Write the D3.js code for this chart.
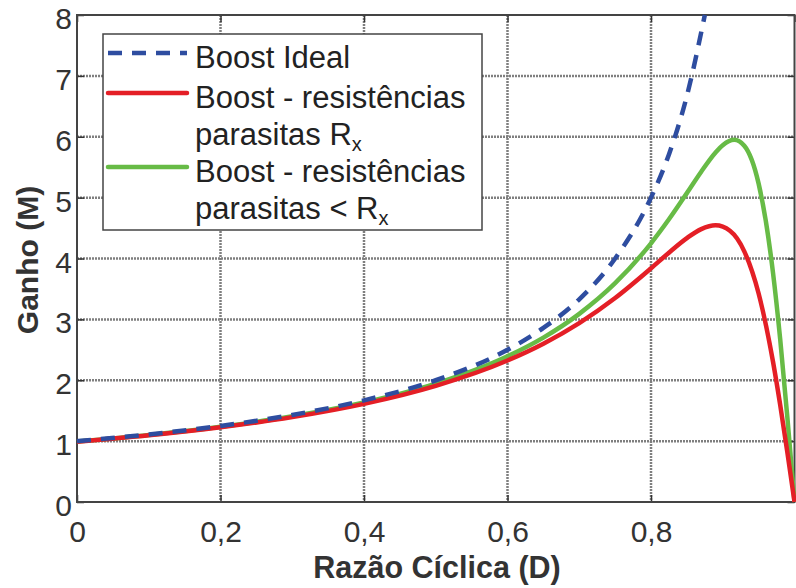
<!DOCTYPE html>
<html>
<head>
<meta charset="utf-8">
<script src="https://cdn.jsdelivr.net/npm/d3@7"></script>
<style>
  body { margin: 0; background: #fff; }
  svg { display: block; font-family: "Liberation Sans", Arial, sans-serif; }
</style>
</head>
<body>
<div id="chart"></div>
<script>
"use strict";

// Data
const dutyIdeal = [0, 0.1, 0.2, 0.3, 0.4, 0.5, 0.6, 0.65, 0.7, 0.75, 0.8, 0.825, 0.85, 0.875];
const gainIdeal = [1, 1.11, 1.25, 1.43, 1.67, 2.0, 2.5, 2.86, 3.33, 4.0, 5.0, 5.71, 6.67, 8.0];

const dutyRx = [0, 0.1, 0.2, 0.3, 0.4, 0.5, 0.6, 0.65, 0.7, 0.75, 0.8, 0.825, 0.85, 0.87, 0.89, 0.91, 0.93, 0.95, 0.97, 0.98, 0.99, 1];
const gainRx = [0.99, 1.095, 1.227, 1.394, 1.612, 1.908, 2.324, 2.6, 2.938, 3.351, 3.839, 4.096, 4.335, 4.483, 4.545, 4.455, 4.118, 3.425, 2.308, 1.6, 0.82, 0];

const dutyLow = [0, 0.1, 0.2, 0.3, 0.4, 0.5, 0.6, 0.65, 0.7, 0.75, 0.8, 0.825, 0.85, 0.87, 0.89, 0.9, 0.916, 0.93, 0.95, 0.96, 0.97, 0.98, 0.99, 1];
const gainLow = [0.993, 1.102, 1.236, 1.408, 1.635, 1.945, 2.394, 2.701, 3.091, 3.594, 4.25, 4.644, 5.074, 5.426, 5.741, 5.862, 5.95, 5.853, 5.23, 4.619, 3.769, 2.681, 1.397, 0];

const xTicks = [0, 0.2, 0.4, 0.6, 0.8, 1];
const yTicks = [0, 1, 2, 3, 4, 5, 6, 7, 8];

const width = 796, height = 588;
const margin = { top: 15, right: 1, bottom: 86, left: 77 };

let svg = d3.select("#chart").append("svg")
    .attr("width", width)
    .attr("height", height);

let xScale = d3.scaleLinear().domain([0, 1]).range([margin.left, width - margin.right - 0.5]);
let yScale = d3.scaleLinear().domain([0, 8]).range([height - margin.bottom, margin.top]);

let x0 = xScale.range()[0], x1 = xScale.range()[1];
let y0 = yScale.range()[0], y1 = yScale.range()[1];

// Grid
let grid = svg.append("g").attr("class", "grid")
    .style("stroke", "#7f7f7f")
    .style("stroke-width", 2.5)
    .style("stroke-dasharray", "2 1");

grid.selectAll("line.v").data(xTicks.slice(1, -1)).enter().append("line")
    .attr("class", "v")
    .attr("x1", d => xScale(d)).attr("x2", d => xScale(d))
    .attr("y1", y1).attr("y2", y0);

grid.selectAll("line.h").data(yTicks.slice(1, -1)).enter().append("line")
    .attr("class", "h")
    .attr("x1", x0).attr("x2", x1)
    .attr("y1", d => yScale(d)).attr("y2", d => yScale(d));

// Axes (ticks inside, mirrored on all sides)
let tickLen = 7;
let axisStyle = g => {
    g.select(".domain").remove();
    g.selectAll(".tick line").attr("stroke", "#333").attr("stroke-width", 1.5);
    g.selectAll(".tick text")
        .attr("fill", "#333")
        .style("font-size", "30px");
};

let fmt = d => String(d).replace(".", ",");

svg.append("g")
    .attr("transform", "translate(0," + y0 + ")")
    .call(d3.axisBottom(xScale).tickValues(xTicks.slice(0, -1)).tickFormat(fmt).tickSize(-tickLen).tickPadding(19))
    .call(axisStyle);

svg.append("g")
    .attr("transform", "translate(0," + y1 + ")")
    .call(d3.axisTop(xScale).tickValues(xTicks).tickFormat("").tickSize(-tickLen))
    .call(axisStyle);

svg.append("g")
    .attr("transform", "translate(" + x0 + ",0)")
    .call(d3.axisLeft(yScale).tickValues(yTicks).tickFormat(d3.format("d")).tickSize(-tickLen).tickPadding(5))
    .call(axisStyle)
    .call(g => g.selectAll(".tick text").attr("y", 4));

svg.append("g")
    .attr("transform", "translate(" + x1 + ",0)")
    .call(d3.axisRight(yScale).tickValues(yTicks).tickFormat("").tickSize(-tickLen))
    .call(axisStyle);

// Frame
svg.append("rect")
    .attr("x", x0).attr("y", y1)
    .attr("width", x1 - x0).attr("height", y0 - y1)
    .attr("fill", "none")
    .attr("stroke", "#444")
    .attr("stroke-width", 2);

// Curves
let line = d3.line()
    .x(d => xScale(d[0]))
    .y(d => yScale(d[1]))
    .curve(d3.curveMonotoneX);

let series = [
    { duty: dutyLow, gain: gainLow, color: "#67bb46", dash: null },
    { duty: dutyRx, gain: gainRx, color: "#e41f26", dash: null },
    { duty: dutyIdeal, gain: gainIdeal, color: "#2e4da0", dash: "14 10" }
];

svg.append("g").attr("class", "lines")
    .selectAll("path").data(series).enter().append("path")
    .attr("d", s => line(d3.zip(s.duty, s.gain)))
    .attr("fill", "none")
    .attr("stroke", s => s.color)
    .attr("stroke-width", 4.5)
    .attr("stroke-dasharray", s => s.dash);

// Legend
let legend = svg.append("g").attr("class", "legend");
legend.append("rect")
    .attr("x", 103).attr("y", 34)
    .attr("width", 379).attr("height", 196)
    .attr("fill", "#fff")
    .attr("stroke", "#444")
    .attr("stroke-width", 1.5);

let legendItems = [
    { color: "#2e4da0", dash: "14 10", y: 53, lines: [{ t: "Boost Ideal", y: 68 }] },
    { color: "#e41f26", dash: null, y: 93, lines: [{ t: "Boost - resistências", y: 108 }, { t: "parasitas R", sub: "x", y: 145 }] },
    { color: "#67bb46", dash: null, y: 167, lines: [{ t: "Boost - resistências", y: 182 }, { t: "parasitas < R", sub: "x", y: 219 }] }
];

legendItems.forEach(item => {
    legend.append("line")
        .attr("x1", 108).attr("x2", 187)
        .attr("y1", item.y).attr("y2", item.y)
        .attr("stroke", item.color)
        .attr("stroke-width", 4.5)
        .attr("stroke-linecap", item.dash ? "butt" : "round")
        .attr("stroke-dasharray", item.dash);
    item.lines.forEach(l => {
        let text = legend.append("text")
            .attr("x", 195).attr("y", l.y)
            .attr("fill", "#222")
            .style("font-size", "31px")
            .text(l.t);
        if (l.sub) {
            text.append("tspan")
                .attr("dy", 6)
                .style("font-size", "20px")
                .text(l.sub);
        }
    });
});

// Axis titles
svg.append("text")
    .attr("x", 437).attr("y", 578)
    .attr("text-anchor", "middle")
    .attr("fill", "#333")
    .style("font-size", "30.5px")
    .style("font-weight", "bold")
    .text("Razão Cíclica (D)");

svg.append("text")
    .attr("transform", "translate(38,260) rotate(-90)")
    .attr("text-anchor", "middle")
    .attr("fill", "#333")
    .style("font-size", "30px")
    .style("font-weight", "bold")
    .text("Ganho (M)");
</script>
</body>
</html>
